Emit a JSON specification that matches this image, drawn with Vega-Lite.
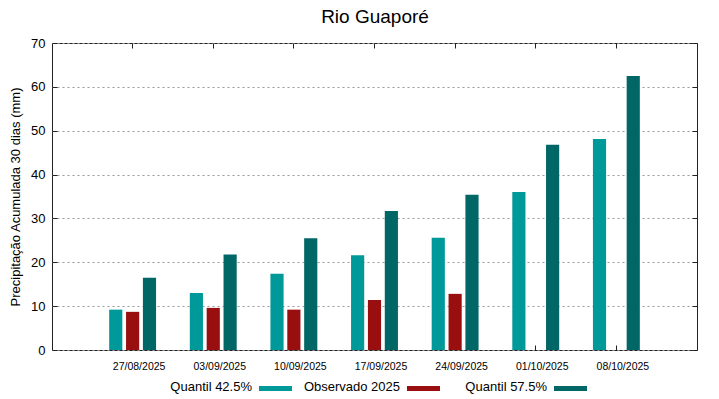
{
  "$schema": "https://vega.github.io/schema/vega-lite/v6.json",
  "width": 645,
  "height": 307,
  "autosize": {"type": "none"},
  "padding": {"left": 52, "top": 43, "right": 22, "bottom": 49},
  "background": "white",
  "config": {
    "font": "Liberation Sans",
    "view": {"stroke": "#222", "strokeWidth": 1},
    "legend": {
      "title": null,
      "orient": "none",
      "direction": "horizontal",
      "symbolType": "M-1,-0.03H1V0.27H-1Z",
      "symbolSize": 1089,
      "symbolStrokeWidth": 0,
      "labelAlign": "right",
      "labelOffset": -40,
      "labelFontSize": 13,
      "labelColor": "black",
      "labelLimit": 200
    }
  },
  "data": {
    "values": [
      {"date": "27/08/2025", "series": "Quantil 42.5%", "value": 9.2},
      {"date": "27/08/2025", "series": "Observado 2025", "value": 8.7},
      {"date": "27/08/2025", "series": "Quantil 57.5%", "value": 16.5},
      {"date": "03/09/2025", "series": "Quantil 42.5%", "value": 13.0},
      {"date": "03/09/2025", "series": "Observado 2025", "value": 9.6},
      {"date": "03/09/2025", "series": "Quantil 57.5%", "value": 21.8},
      {"date": "10/09/2025", "series": "Quantil 42.5%", "value": 17.4},
      {"date": "10/09/2025", "series": "Observado 2025", "value": 9.2},
      {"date": "10/09/2025", "series": "Quantil 57.5%", "value": 25.5},
      {"date": "17/09/2025", "series": "Quantil 42.5%", "value": 21.6},
      {"date": "17/09/2025", "series": "Observado 2025", "value": 11.4},
      {"date": "17/09/2025", "series": "Quantil 57.5%", "value": 31.7},
      {"date": "24/09/2025", "series": "Quantil 42.5%", "value": 25.6},
      {"date": "24/09/2025", "series": "Observado 2025", "value": 12.8},
      {"date": "24/09/2025", "series": "Quantil 57.5%", "value": 35.4},
      {"date": "01/10/2025", "series": "Quantil 42.5%", "value": 36.0},
      {"date": "01/10/2025", "series": "Quantil 57.5%", "value": 46.8},
      {"date": "08/10/2025", "series": "Quantil 42.5%", "value": 48.1},
      {"date": "08/10/2025", "series": "Quantil 57.5%", "value": 62.5}
    ]
  },
  "resolve": {
    "axis": {"x": "independent", "y": "independent"},
    "scale": {"color": "independent"},
    "legend": {"color": "independent"}
  },
  "layer": [
    {
      "encoding": {
        "x": {
          "field": "date",
          "type": "ordinal",
          "sort": null,
          "scale": {"paddingInner": 0, "paddingOuter": 0.5},
          "axis": {
            "title": null,
            "labelAngle": 0,
            "labelFontSize": 10.5,
            "labelColor": "black",
            "labelPadding": 16,
            "labelOffset": 6.5,
            "tickSize": -5,
            "tickColor": "#222",
            "domain": false
          }
        },
        "xOffset": {
          "field": "series",
          "type": "nominal",
          "scale": {
            "domain": ["Quantil 42.5%", "Observado 2025", "Quantil 57.5%"],
            "paddingInner": 0.22,
            "paddingOuter": 1.04
          }
        },
        "y": {
          "field": "value",
          "type": "quantitative",
          "scale": {"domain": [0, 70], "nice": false},
          "axis": {
            "title": "Precipitação Acumulada 30 dias (mm)",
            "titleFontSize": 13,
            "titleFontWeight": "normal",
            "titleColor": "black",
            "titlePadding": 8,
            "values": [0, 10, 20, 30, 40, 50, 60, 70],
            "labelFontSize": 13,
            "labelColor": "black",
            "labelPadding": 12,
            "tickSize": -5,
            "tickColor": "#222",
            "domain": false,
            "grid": true,
            "gridColor": "#999",
            "gridDash": [2, 3],
            "gridWidth": 1
          }
        }
      },
      "resolve": {
        "scale": {"color": "independent"},
        "legend": {"color": "independent"}
      },
      "layer": [
        {
          "transform": [{"filter": "datum.series === 'Quantil 42.5%'"}],
          "mark": {"type": "bar"},
          "encoding": {
            "color": {
              "field": "series",
              "type": "nominal",
              "scale": {"domain": ["Quantil 42.5%"], "range": ["#009999"]},
              "legend": {"legendX": 207, "legendY": 327}
            }
          }
        },
        {
          "transform": [{"filter": "datum.series === 'Observado 2025'"}],
          "mark": {"type": "bar"},
          "encoding": {
            "color": {
              "field": "series",
              "type": "nominal",
              "scale": {"domain": ["Observado 2025"], "range": ["#990f0f"]},
              "legend": {"legendX": 355, "legendY": 327}
            }
          }
        },
        {
          "transform": [{"filter": "datum.series === 'Quantil 57.5%'"}],
          "mark": {"type": "bar"},
          "encoding": {
            "color": {
              "field": "series",
              "type": "nominal",
              "scale": {"domain": ["Quantil 57.5%"], "range": ["#006666"]},
              "legend": {"legendX": 502, "legendY": 327}
            }
          }
        }
      ]
    },
    {
      "mark": {"type": "bar", "opacity": 0},
      "encoding": {
        "x": {
          "field": "date",
          "type": "ordinal",
          "sort": null,
          "axis": {
            "orient": "top",
            "title": "Rio Guaporé",
            "titleFontSize": 19,
            "titleFont": "Liberation Sans",
            "titleFontWeight": "normal",
            "titleColor": "black",
            "titleAnchor": "middle",
            "titleBaseline": "alphabetic",
            "titleY": -21,
            "labels": false,
            "tickSize": -5,
            "tickColor": "#222",
            "domain": false
          }
        },
        "y": {
          "field": "value",
          "type": "quantitative",
          "axis": {
            "orient": "right",
            "title": null,
            "labels": false,
            "values": [0, 10, 20, 30, 40, 50, 60, 70],
            "tickSize": -5,
            "tickColor": "#222",
            "domain": false,
            "grid": false
          }
        }
      }
    }
  ]
}
